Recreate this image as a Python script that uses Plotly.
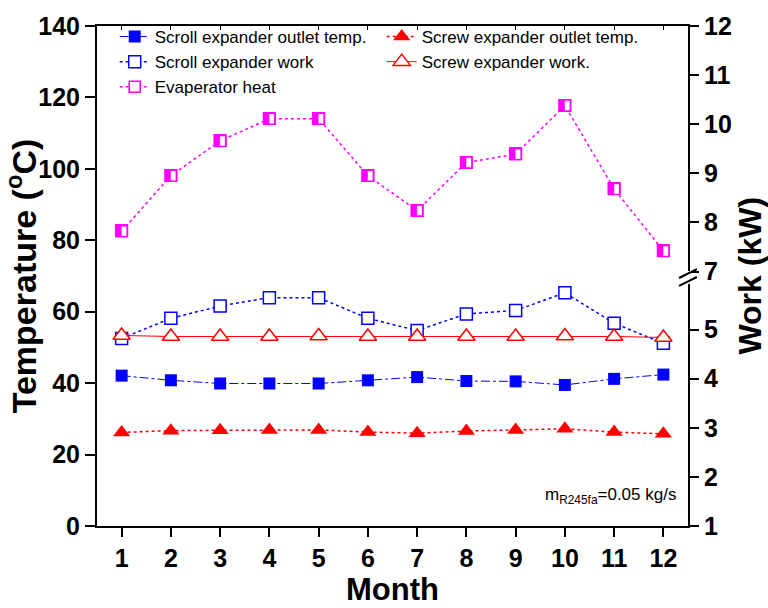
import plotly.graph_objects as go

months = list(range(1, 13))
scroll_outlet_temp = [42.1, 40.8, 39.9, 39.9, 39.9, 40.8, 41.7, 40.6, 40.5, 39.5, 41.2, 42.4]
screw_outlet_temp = [26.2, 26.7, 26.8, 26.9, 26.9, 26.3, 26.0, 26.6, 26.9, 27.2, 26.3, 25.8]
scroll_work = [4.82, 5.23, 5.48, 5.65, 5.65, 5.23, 4.98, 5.32, 5.39, 5.75, 5.13, 4.72]
screw_work = [4.88, 4.86, 4.86, 4.86, 4.87, 4.86, 4.86, 4.86, 4.86, 4.87, 4.86, 4.84]
evaporator_heat = [7.82, 8.95, 9.66, 10.11, 10.11, 8.95, 8.24, 9.22, 9.39, 10.38, 8.68, 7.42]

left_ticks = [0, 20, 40, 60, 80, 100, 120, 140]
work_ticks_low = [1, 2, 3, 4, 5]
work_ticks_high = [7, 8, 9, 10, 11, 12]

BLUE = "#0000ff"
RED = "#ff0000"
MAG = "#ff00ff"
FONT = "Liberation Sans, Arial, sans-serif"

fig = go.Figure()

fig.add_trace(go.Scatter(
    x=months, y=scroll_outlet_temp, name="Scroll expander outlet temp.",
    mode="lines+markers", yaxis="y",
    line=dict(color=BLUE, width=1, dash="dashdot"),
    marker=dict(symbol="square", size=12, color=BLUE)))
fig.add_trace(go.Scatter(
    x=months, y=screw_outlet_temp, name="Screw expander outlet temp.",
    mode="lines+markers", yaxis="y",
    line=dict(color=RED, width=1.5, dash="dot"),
    marker=dict(symbol="triangle-up", size=15, color=RED)))
fig.add_trace(go.Scatter(
    x=months, y=scroll_work, name="Scroll expander work",
    mode="lines+markers", yaxis="y2",
    line=dict(color=BLUE, width=1.5, dash="dot"),
    marker=dict(symbol="square", size=12, color="white",
                line=dict(color=BLUE, width=1.5))))
fig.add_trace(go.Scatter(
    x=months, y=screw_work, name="Screw expander work.",
    mode="lines+markers", yaxis="y2",
    line=dict(color=RED, width=1),
    marker=dict(symbol="triangle-up", size=15, color="white",
                line=dict(color=RED, width=1.5))))
fig.add_trace(go.Scatter(
    x=months, y=evaporator_heat, name="Evaperator heat",
    mode="lines+markers", yaxis="y3",
    line=dict(color=MAG, width=1.5, dash="dot"),
    marker=dict(symbol="square", size=11, color="white",
                line=dict(color=MAG, width=1.5))))
fig.add_trace(go.Scatter(
    x=months, y=evaporator_heat, mode="text", yaxis="y3",
    text=["\u25e7"] * len(months), textposition="middle center",
    textfont=dict(family="DejaVu Sans", size=17, color=MAG),
    showlegend=False, hoverinfo="skip"))

tickfont = dict(family=FONT, size=25, color="black", weight="bold")

fig.update_layout(
    width=768, height=608,
    margin=dict(l=93, r=80, t=23, b=81),
    paper_bgcolor="white", plot_bgcolor="rgba(0,0,0,0)",
    showlegend=True,
    legend=dict(orientation="h", x=0.03, y=1.014, xanchor="left", yanchor="top",
                entrywidth=222, bgcolor="rgba(0,0,0,0)",
                font=dict(family=FONT, size=17, color="black"),
                tracegroupgap=0, itemwidth=30),
    xaxis=dict(range=[0.5, 12.5], tickvals=months, ticks="outside", ticklen=9,
               tickwidth=2, tickcolor="black", showline=True, linewidth=2,
               linecolor="black", showgrid=False, zeroline=False,
               tickfont=tickfont,
               title=dict(text="Month", font=dict(family=FONT, size=31,
                                                   color="black", weight="bold"),
                          standoff=2)),
    xaxis2=dict(range=[0.5, 12.5], overlaying="x", side="top", tickvals=months,
                ticks="inside", ticklen=4, tickwidth=1, tickcolor="black",
                showline=True, linewidth=2, linecolor="black",
                showticklabels=False, showgrid=False, zeroline=False),
    yaxis=dict(range=[0, 140], tickvals=left_ticks, ticks="outside", ticklen=10,
               tickwidth=2, tickcolor="black", showline=True, linewidth=2,
               linecolor="black", mirror=True, showgrid=False, zeroline=False,
               tickfont=tickfont,
               title=dict(text="Temperature (<sup>o</sup>C)",
                          font=dict(family=FONT, size=34, color="black",
                                    weight="bold"),
                          standoff=2)),
    yaxis2=dict(range=[1, 6], domain=[0, 0.491], anchor="x", side="right",
                tickvals=work_ticks_low, ticks="outside", ticklen=9, tickwidth=2,
                tickcolor="black", showline=True, linewidth=2, linecolor="black",
                showgrid=False, zeroline=False, tickfont=tickfont),
    yaxis3=dict(range=[7, 12], domain=[0.509, 1], anchor="x", side="right",
                tickvals=work_ticks_high, ticks="outside", ticklen=9, tickwidth=2,
                tickcolor="black", showline=True, linewidth=2, linecolor="black",
                showgrid=False, zeroline=False, tickfont=tickfont),
)

# axis break marker on the right axis
PW, PH = 595.0, 504.0
def px(dx):
    return 1 + dx / PW
def py(y_pix):
    return (527 - y_pix) / PH

shapes = [
    dict(type="rect", xref="paper", yref="paper", x0=px(-3), x1=px(3),
         y0=py(283), y1=py(270), fillcolor="white", line=dict(width=0),
         layer="above"),
    dict(type="line", xref="paper", yref="paper", x0=px(-9), y0=py(277),
         x1=px(9), y1=py(268), line=dict(color="black", width=2), layer="above"),
    dict(type="line", xref="paper", yref="paper", x0=px(-9), y0=py(285),
         x1=px(9), y1=py(276), line=dict(color="black", width=2), layer="above"),
]
fig.update_layout(shapes=shapes)

fig.add_annotation(text="Work (kW)", xref="paper", yref="paper",
                   x=px(62), y=0.5, xanchor="center", yanchor="middle",
                   textangle=-90, showarrow=False,
                   font=dict(family=FONT, size=32, color="black", weight="bold"))
fig.add_annotation(text="m<sub>R245fa</sub>=0.05 kg/s", xref="paper", yref="paper",
                   x=px(-10), y=py(497), xanchor="right", yanchor="middle",
                   showarrow=False,
                   font=dict(family=FONT, size=17, color="black"))

# invisible trace to activate the top mirror axis (inward ticks)
fig.add_trace(go.Scatter(x=[months[0]], y=[scroll_outlet_temp[0]], xaxis="x2",
                         yaxis="y", mode="markers", marker=dict(opacity=0),
                         showlegend=False, hoverinfo="skip"))

fig.write_html("out.html")
